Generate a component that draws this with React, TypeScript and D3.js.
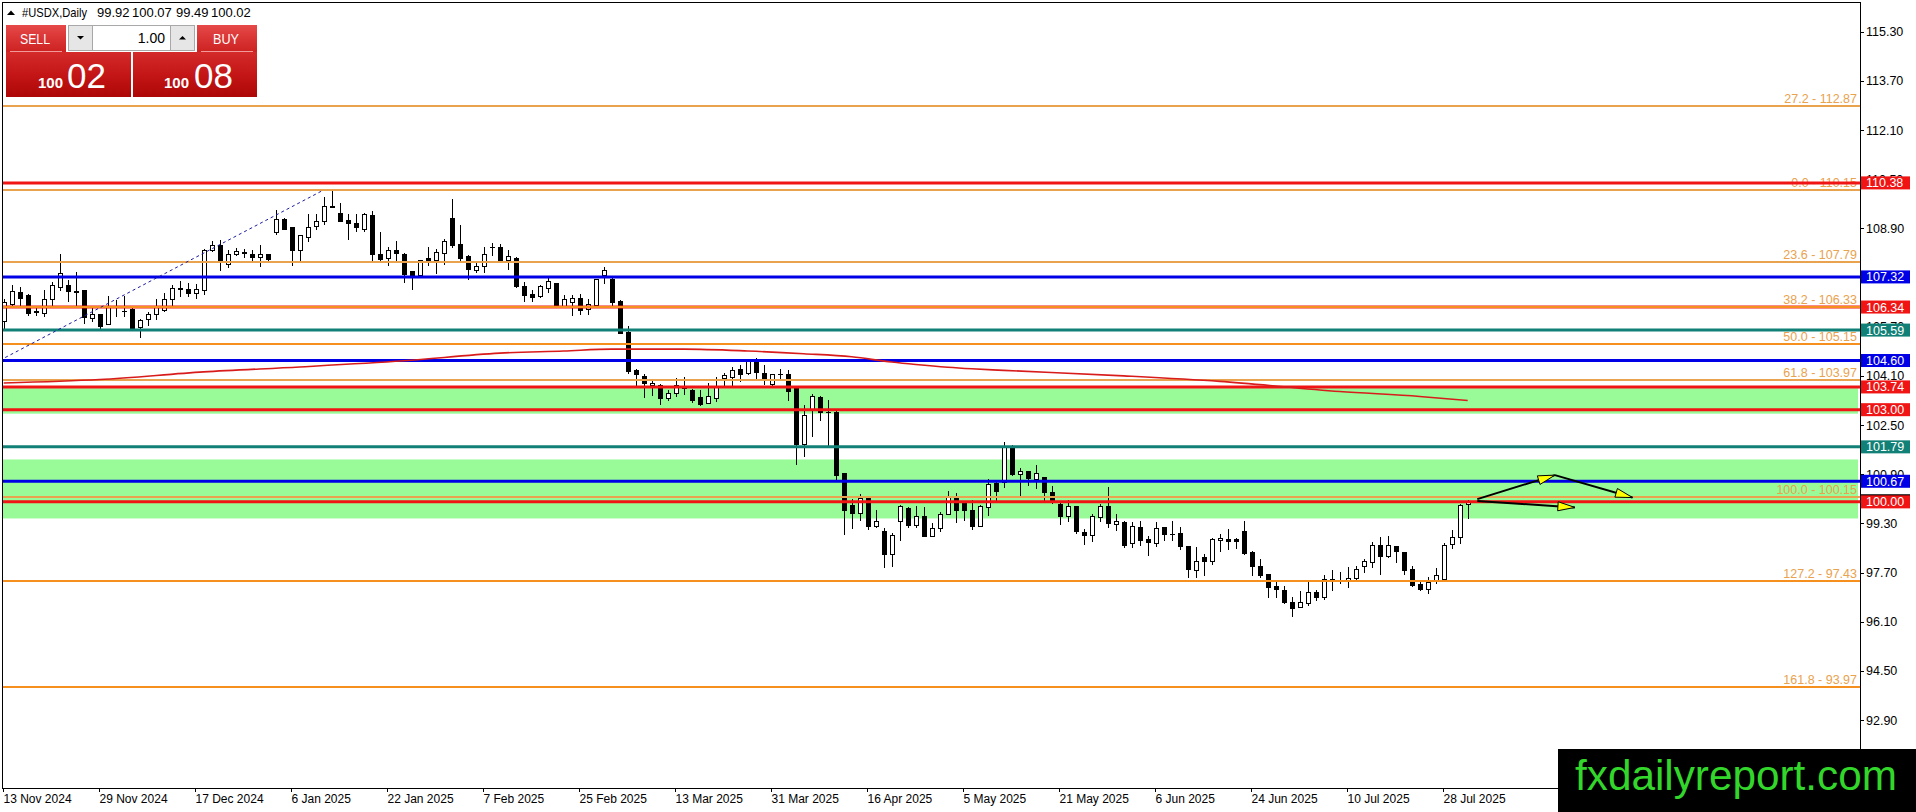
import React from 'react';
import * as d3 from 'd3';

// ---------- DATA ----------
const opens = [
  105.9, 106.45, 106.83, 106.72, 106.2, 106.15, 106.61, 107.0, 107.05, 106.86,
  106.88, 105.98, 106.12, 105.78, 106.35, 106.2, 106.29, 105.69, 105.96, 106.12,
  106.23, 106.61, 106.95, 106.94, 106.81, 106.9, 108.21, 108.35, 107.75, 108.05,
  108.14, 108.06, 107.98, 108.05, 108.78, 109.22, 108.93, 108.19, 108.62, 108.98,
  109.14, 109.62, 109.4, 109.16, 109.08, 108.89, 109.33, 108.06, 107.95, 108.21,
  108.08, 107.5, 107.37, 107.92, 107.88, 108.1, 109.25, 108.4, 108.0, 107.55,
  107.68, 108.3, 108.3, 107.88, 107.95, 107.01, 106.78, 106.7, 106.96, 107.13,
  106.37, 106.5, 106.64, 106.26, 106.4, 107.37, 107.26, 106.53, 105.53, 104.28,
  104.08, 103.8, 103.81, 103.39, 103.55, 103.7, 103.65, 103.41, 103.21, 103.39,
  104.03, 104.06, 104.31, 104.19, 104.62, 104.2, 103.84, 104.15, 104.17, 103.71,
  101.87, 103.03, 103.41, 102.94, 102.94, 100.94, 99.91, 99.63, 100.13, 99.2,
  99.06, 98.3, 99.37, 99.79, 99.25, 99.55, 98.88, 99.15, 99.59, 100.13,
  99.95, 99.74, 99.2, 99.83, 100.62, 100.64, 101.78, 100.91, 100.99, 100.75,
  100.8, 100.31, 99.93, 99.55, 99.88, 99.03, 98.92, 99.52, 99.85, 99.28,
  99.34, 98.65, 99.19, 98.79, 98.65, 99.17, 98.97, 99.0, 98.57, 97.78,
  98.22, 98.06, 98.76, 98.79, 98.79, 99.06, 98.36, 97.92, 97.65, 97.27,
  97.14, 96.75, 96.59, 96.7, 97.08, 96.89, 97.49, 97.44, 97.41, 97.52,
  97.92, 98.05, 98.61, 98.25, 98.57, 98.36, 97.81, 97.33, 97.16, 97.45,
  97.49, 98.63, 98.87, 99.92,
];
const highs = [
  106.6, 107.05, 106.99, 106.75, 106.32, 106.88, 107.16, 108.08, 107.21, 107.48,
  106.88, 106.36, 106.12, 106.69, 106.56, 106.69, 106.36, 105.96, 106.18, 106.61,
  106.8, 107.05, 107.18, 107.12, 107.1, 108.24, 108.48, 108.51, 108.21, 108.27,
  108.24, 108.19, 108.35, 108.06, 109.51, 109.24, 108.95, 108.67, 109.36, 109.38,
  109.93, 110.15, 109.74, 109.38, 109.38, 109.4, 109.47, 108.78, 108.28, 108.49,
  108.1, 107.51, 107.88, 108.28, 108.22, 108.55, 109.85, 109.0, 108.02, 107.8,
  108.3, 108.43, 108.4, 108.2, 107.97, 107.16, 106.88, 107.05, 107.32, 107.13,
  106.72, 106.74, 106.77, 106.61, 107.26, 107.64, 107.3, 106.58, 105.71, 104.33,
  104.17, 104.0, 103.84, 103.63, 104.03, 104.06, 103.68, 103.63, 103.87, 104.06,
  104.19, 104.39, 104.44, 104.65, 104.68, 104.47, 104.17, 104.33, 104.28, 103.71,
  103.14, 103.52, 103.43, 103.3, 102.99, 100.94, 100.1, 100.24, 100.13, 99.72,
  99.15, 98.98, 99.91, 99.82, 99.85, 99.82, 99.31, 99.66, 100.35, 100.29,
  100.04, 100.06, 99.91, 100.75, 100.7, 101.95, 101.85, 101.11, 101.02, 101.21,
  100.82, 100.53, 99.99, 100.06, 99.88, 99.12, 99.61, 99.93, 100.5, 99.61,
  99.37, 99.34, 99.37, 98.9, 99.34, 99.19, 99.37, 99.19, 98.57, 98.52,
  98.3, 98.82, 98.95, 99.12, 98.82, 99.39, 98.39, 98.14, 97.65, 97.46,
  97.27, 96.91, 97.11, 97.38, 97.14, 97.63, 97.79, 97.73, 97.89, 97.92,
  98.14, 98.68, 98.87, 98.9, 98.57, 98.36, 97.92, 97.38, 97.56, 97.85,
  98.65, 99.08, 99.93, 100.07,
];
const lows = [
  105.6, 106.36, 106.36, 106.07, 106.07, 106.04, 106.4, 106.88, 106.53, 106.4,
  105.82, 105.9, 105.58, 105.78, 106.04, 106.04, 105.67, 105.37, 105.74, 105.96,
  106.21, 106.36, 106.69, 106.69, 106.65, 106.75, 108.17, 107.56, 107.64, 108.02,
  107.97, 107.88, 107.67, 107.88, 108.71, 108.87, 107.7, 107.84, 108.49, 108.87,
  109.03, 109.58, 109.14, 108.55, 108.82, 108.82, 107.88, 107.88, 107.7, 107.86,
  107.16, 106.94, 107.37, 107.7, 107.45, 107.75, 108.3, 107.84, 107.25, 107.48,
  107.49, 108.02, 107.86, 107.59, 106.99, 106.54, 106.54, 106.67, 106.83, 106.37,
  106.34, 106.07, 106.12, 106.1, 106.39, 107.12, 106.4, 105.49, 104.19, 103.79,
  103.41, 103.49, 103.19, 103.3, 103.44, 103.5, 103.25, 103.14, 103.21, 103.28,
  103.79, 103.79, 103.93, 104.15, 104.04, 103.84, 103.78, 104.0, 103.3, 101.22,
  101.48, 102.13, 102.67, 101.8, 100.69, 98.95, 99.14, 99.42, 99.12, 99.17,
  97.87, 97.92, 98.77, 99.17, 99.17, 98.88, 98.88, 99.06, 99.59, 99.34,
  99.41, 99.12, 99.2, 99.57, 100.04, 100.48, 100.86, 100.2, 100.56, 100.45,
  100.02, 99.95, 99.28, 99.37, 98.98, 98.63, 98.74, 99.37, 99.17, 99.09,
  98.54, 98.52, 98.61, 98.28, 98.57, 98.76, 98.76, 98.47, 97.54, 97.54,
  97.63, 97.98, 98.41, 98.47, 98.5, 98.3, 97.63, 97.56, 96.91, 96.91,
  96.7, 96.29, 96.57, 96.65, 96.8, 96.84, 97.13, 97.35, 97.22, 97.49,
  97.71, 97.87, 97.65, 98.19, 98.03, 97.65, 97.27, 97.13, 97.05, 97.35,
  97.43, 98.5, 98.65, 99.49,
];
const closes = [
  106.5, 106.85, 106.65, 106.15, 106.18, 106.61, 107.05, 107.46, 106.86, 106.84,
  106.02, 106.12, 105.71, 106.36, 106.36, 106.21, 105.67, 105.93, 106.12, 106.36,
  106.61, 106.97, 106.92, 106.8, 106.92, 108.21, 108.37, 107.83, 108.06, 108.17,
  108.1, 107.97, 108.05, 107.9, 109.22, 108.89, 108.19, 108.67, 108.95, 109.13,
  109.62, 109.6, 109.14, 109.08, 108.93, 109.38, 108.05, 107.9, 108.21, 108.1,
  107.41, 107.37, 107.86, 107.86, 108.12, 108.49, 108.35, 107.92, 107.57, 107.66,
  108.08, 108.28, 107.86, 107.99, 107.03, 106.72, 106.67, 107.01, 107.18, 106.37,
  106.61, 106.64, 106.23, 106.45, 107.26, 107.53, 106.5, 105.49, 104.25, 104.15,
  103.86, 103.87, 103.39, 103.55, 103.79, 103.71, 103.33, 103.17, 103.43, 103.73,
  104.14, 104.28, 104.17, 104.6, 104.22, 103.98, 104.17, 104.15, 103.6, 101.87,
  102.84, 103.46, 102.92, 102.94, 100.86, 99.72, 99.63, 100.13, 99.2, 99.39,
  98.3, 98.93, 99.85, 99.25, 99.55, 98.88, 99.15, 99.59, 100.15, 99.74,
  99.74, 99.23, 99.85, 100.58, 100.35, 101.8, 100.91, 101.02, 100.78, 100.94,
  100.31, 100.02, 99.55, 99.88, 99.04, 98.92, 99.55, 99.85, 99.3, 99.39,
  98.61, 99.23, 98.76, 98.68, 99.15, 98.95, 98.97, 98.57, 97.81, 98.09,
  98.06, 98.79, 98.82, 98.72, 98.74, 98.32, 97.9, 97.63, 97.22, 97.18,
  96.73, 96.56, 96.73, 97.08, 96.91, 97.49, 97.41, 97.46, 97.52, 97.81,
  98.06, 98.61, 98.25, 98.61, 98.39, 97.78, 97.3, 97.16, 97.38, 97.62,
  98.61, 98.87, 99.9, 100.02,
];

const timeLabels = [
  '13 Nov 2024', '29 Nov 2024', '17 Dec 2024', '6 Jan 2025', '22 Jan 2025', '7 Feb 2025',
  '25 Feb 2025', '13 Mar 2025', '31 Mar 2025', '16 Apr 2025', '5 May 2025', '21 May 2025',
  '6 Jun 2025', '24 Jun 2025', '10 Jul 2025', '28 Jul 2025',
];
const timeLabelBars = [0, 12, 24, 36, 48, 60, 72, 84, 96, 108, 120, 132, 144, 156, 168, 180];

const priceTicks = [115.3, 113.7, 112.1, 110.5, 108.9, 107.3, 105.7, 104.1, 102.5, 100.9, 99.3, 97.7, 96.1, 94.5, 92.9];

const fibLevels = [27.2, 0.0, 23.6, 38.2, 50.0, 61.8, 100.0, 127.2, 161.8];
const fibPrices = [112.87, 110.15, 107.79, 106.33, 105.15, 103.97, 100.15, 97.43, 93.97];
const fibKinds = ['tan', 'tan', 'tan', 'deep', 'deep', 'tan', 'tan', 'deep', 'deep'];
const fibAnchorBars = [-33, 40];
const fibAnchorPrices = [100.15, 110.15];

const levelPrices = [110.38, 107.32, 106.34, 105.59, 104.6, 103.74, 103.0, 101.79, 100.67, 100.0];
const levelKinds = ['red', 'blue', 'red', 'teal', 'blue', 'red', 'red', 'teal', 'blue', 'red'];

const zoneTops = [103.7, 101.38];
const zoneBottoms = [102.87, 99.46];

const maBars = [0, 12, 25, 37, 50, 62, 70, 76, 85, 93, 100, 106, 111, 114, 118, 121, 125, 140, 152, 167, 177, 183];
const maValues = [103.87, 103.98, 104.23, 104.39, 104.59, 104.84, 104.91, 104.97, 104.97, 104.91, 104.82, 104.72, 104.55, 104.47, 104.38, 104.33, 104.28, 104.1, 103.92, 103.59, 103.43, 103.3];

const arrowFromBars = [184.2, 193.9, 184.2];
const arrowFromPrices = [100.09, 100.87, 100.03];
const arrowToBars = [193.9, 203.6, 196.4];
const arrowToPrices = [100.87, 100.14, 99.82];

const bidPrice = 100.02;
const headerSymbol = '#USDX,Daily';
const headerValues = ['99.92', '100.07', '99.49', '100.02'];

// ---------- STYLE ----------
const W = 1916;
const H = 812;
const PL = 2, PT = 2, PR = 1860, PB = 788;
const FONT = '"Liberation Sans", Arial, "DejaVu Sans", sans-serif';
const COLORS: Record<string, string> = {
  red: '#f01414',
  blue: '#0000e6',
  teal: '#118076',
  tan: '#e9a24e',
  deep: '#f5901f',
};
const headerX = [97, 132, 176, 211];

const x = d3.scaleLinear().domain([0, 183]).range([3.7, 1467.7]);
const y = d3.scaleLinear().domain([115.3, 92.9]).range([31.7, 720.05]);

function Candles() {
  return (
    <g>
      {opens.map((o, i) => {
        const cx = Math.round(x(i));
        const yo = Math.round(y(o));
        const yc = Math.round(y(closes[i]));
        const yh = Math.round(y(highs[i]));
        const yl = Math.round(y(lows[i]));
        const bull = closes[i] >= o;
        const top = Math.min(yo, yc);
        const h = Math.abs(yo - yc);
        return (
          <g key={i}>
            <line x1={cx + 0.5} x2={cx + 0.5} y1={yh} y2={yl + 1} stroke="#000" strokeWidth={1} />
            {h < 1 ? (
              <line x1={cx - 2} x2={cx + 3} y1={top + 0.5} y2={top + 0.5} stroke="#000" strokeWidth={1} />
            ) : (
              <rect x={cx - 1.5} y={top + 0.5} width={4} height={h} fill={bull ? '#fff' : '#000'} stroke="#000" strokeWidth={1} />
            )}
          </g>
        );
      })}
    </g>
  );
}

function Arrow({ i }: { i: number }) {
  const x1 = x(arrowFromBars[i]);
  const y1 = y(arrowFromPrices[i]);
  const x2 = x(arrowToBars[i]);
  const y2 = y(arrowToPrices[i]);
  const ang = Math.atan2(y2 - y1, x2 - x1);
  const len = 17;
  const hw = 4.5;
  const bx = x2 - len * Math.cos(ang);
  const by = y2 - len * Math.sin(ang);
  const px = -Math.sin(ang) * hw;
  const py = Math.cos(ang) * hw;
  return (
    <g>
      <line x1={x1} y1={y1} x2={x2} y2={y2} stroke="#000" strokeWidth={2} />
      <polygon
        points={`${x2},${y2} ${bx + px},${by + py} ${bx - px},${by - py}`}
        fill="#ffff00"
        stroke="#000"
        strokeWidth={1}
      />
    </g>
  );
}

function Widget() {
  return (
    <g fontFamily={FONT}>
      <defs>
        <linearGradient id="gTop" x1="0" y1="0" x2="0" y2="1">
          <stop offset="0" stopColor="#e64848" />
          <stop offset="1" stopColor="#cc2020" />
        </linearGradient>
        <linearGradient id="gBot" x1="0" y1="0" x2="0" y2="1">
          <stop offset="0" stopColor="#d42a2a" />
          <stop offset="0.5" stopColor="#c41616" />
          <stop offset="1" stopColor="#ad0606" />
        </linearGradient>
      </defs>
      {/* header */}
      <polygon points="7,15 15,15 11,10.5" fill="#000" />
      <text x={22} y={17} fontSize={13} fill="#000" textLength={65} lengthAdjust="spacingAndGlyphs">{headerSymbol}</text>
      {headerValues.map((v, i) => (
        <text key={v + i} x={headerX[i]} y={17} fontSize={13} fill="#000">{v}</text>
      ))}
      {/* sell / buy panels */}
      <rect x={6} y={25} width={60} height={28} fill="url(#gTop)" />
      <rect x={197} y={25} width={60} height={28} fill="url(#gTop)" />
      <rect x={6} y={52} width={125} height={45} fill="url(#gBot)" />
      <rect x={133} y={52} width={124} height={45} fill="url(#gBot)" />
      <line x1={10} x2={62} y1={51.5} y2={51.5} stroke="#f29a9a" strokeWidth={1} />
      <line x1={201} x2={253} y1={51.5} y2={51.5} stroke="#f29a9a" strokeWidth={1} />
      <text x={20} y={44} fontSize={14} fill="#fff" textLength={30} lengthAdjust="spacingAndGlyphs">SELL</text>
      <text x={213} y={44} fontSize={14} fill="#fff" textLength={26} lengthAdjust="spacingAndGlyphs">BUY</text>
      {/* lot control */}
      <rect x={68.5} y={25.5} width={126} height={25} fill="#f4f4f4" stroke="#a8a8a8" />
      <rect x={68.5} y={25.5} width={24} height={25} fill="#e6e6e6" stroke="#a8a8a8" />
      <rect x={170.5} y={25.5} width={24} height={25} fill="#e6e6e6" stroke="#a8a8a8" />
      <rect x={92.5} y={25.5} width={78} height={25} fill="#fff" stroke="#a8a8a8" />
      <polygon points="77,36 84,36 80.5,39.5" fill="#000" />
      <polygon points="179,39.5 186,39.5 182.5,36" fill="#000" />
      <text x={165} y={43} fontSize={14} fill="#000" textAnchor="end">1.00</text>
      {/* prices */}
      <text x={38} y={88} fontSize={15} fontWeight="bold" fill="#fff">100</text>
      <text x={67} y={88} fontSize={35} fill="#fff">02</text>
      <text x={164} y={88} fontSize={15} fontWeight="bold" fill="#fff">100</text>
      <text x={194} y={88} fontSize={35} fill="#fff">08</text>
    </g>
  );
}

export default function App() {
  const maLine = d3
    .line<number>()
    .x((_, i) => x(maBars[i]))
    .y((d) => y(d))
    .curve(d3.curveMonotoneX)(maValues) as string;

  const fx1 = x(fibAnchorBars[0]);
  const fy1 = y(fibAnchorPrices[0]);
  const fx2 = x(fibAnchorBars[1]);
  const fy2 = y(fibAnchorPrices[1]);

  return (
    <div style={{ position: 'absolute', left: 0, top: 0, width: W, height: H, background: '#fff' }}>
      <svg width={W} height={H} style={{ display: 'block' }} fontFamily={FONT}>
        <defs>
          <clipPath id="plot">
            <rect x={PL} y={PT} width={PR - PL} height={PB - PT} />
          </clipPath>
        </defs>
        <rect x={0} y={0} width={W} height={H} fill="#fff" />
        <g clipPath="url(#plot)">
          {zoneTops.map((t, i) => (
            <rect key={'z' + i} x={PL} y={y(t)} width={PR - 2 - PL} height={y(zoneBottoms[i]) - y(t)} fill="#98fb98" />
          ))}
          <Candles />
          {fibLevels.map((lv, i) => (
            <text key={'fl' + i} x={1857} y={Math.round(y(fibPrices[i])) - 3} fontSize={12.5} textAnchor="end" fill={COLORS.tan}>
              {`${lv.toFixed(1)} - ${fibPrices[i].toFixed(2)}`}
            </text>
          ))}
          {levelPrices.map((p, i) => (
            <line key={'h' + i} x1={PL} x2={PR} y1={y(p)} y2={y(p)} stroke={COLORS[levelKinds[i]]} strokeWidth={3} />
          ))}
          {fibPrices.map((p, i) => (
            <line key={'f' + i} x1={PL} x2={PR} y1={Math.round(y(p))} y2={Math.round(y(p))} stroke={COLORS[fibKinds[i]]} strokeWidth={2} />
          ))}
          <path d={maLine} fill="none" stroke="#d81c1c" strokeWidth={1.6} />
          <line x1={fx1} y1={fy1} x2={fx2} y2={fy2} stroke="#1c1ca0" strokeWidth={1} strokeDasharray="3 3" />
          {arrowFromBars.map((_, i) => (
            <Arrow key={'a' + i} i={i} />
          ))}
        </g>
        <rect x={PL + 0.5} y={PT + 0.5} width={PR - PL} height={PB - PT} fill="none" stroke="#000" strokeWidth={1} />
        <line x1={PR + 0.5} x2={PR + 0.5} y1={PT} y2={H} stroke="#000" strokeWidth={1} />
        {priceTicks.map((t) => (
          <g key={'t' + t}>
            <line x1={PR + 1} x2={PR + 4} y1={Math.round(y(t)) + 0.5} y2={Math.round(y(t)) + 0.5} stroke="#000" />
            <text x={1866} y={y(t)} dy="0.36em" fontSize={12.5} fill="#000">{t.toFixed(2)}</text>
          </g>
        ))}
        <rect x={PR + 1} y={y(bidPrice) - 7} width={49} height={13} fill="#000" />
        {levelPrices.map((p, i) => (
          <g key={'lb' + i}>
            <rect x={PR + 1} y={y(p) - 6.5} width={49} height={13} fill={COLORS[levelKinds[i]]} />
            <text x={1866} y={y(p)} dy="0.36em" fontSize={12.5} fill="#fff">{p.toFixed(2)}</text>
          </g>
        ))}
        {timeLabelBars.map((b, i) => {
          const tx = Math.round(x(b));
          return (
            <g key={'d' + i}>
              <line x1={tx - 0.5} x2={tx - 0.5} y1={PB} y2={PB + 4} stroke="#000" />
              <text x={tx - 0.5} y={803} fontSize={12} fill="#000">{timeLabels[i]}</text>
            </g>
          );
        })}
        <Widget />
        <rect x={1558} y={749} width={W - 1558} height={H - 749} fill="#000" />
        <text x={1575} y={790} fontSize={42} fill="#33d62a" textLength={322} lengthAdjust="spacingAndGlyphs">
          fxdailyreport.com
        </text>
      </svg>
    </div>
  );
}
